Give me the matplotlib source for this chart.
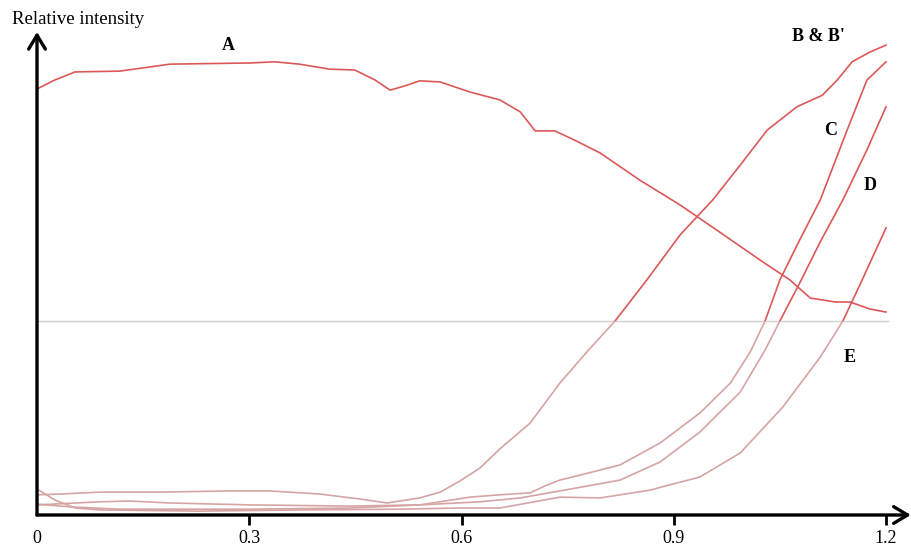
import numpy as np
import matplotlib
matplotlib.use("Agg")
import matplotlib.pyplot as plt
from matplotlib.patches import Rectangle

# curves (x, relative intensity with the grey line at 50)
a_x = [0, 0.025, 0.054, 0.117, 0.188, 0.301, 0.336, 0.371, 0.414, 0.449, 0.478, 0.499,
       0.520, 0.541, 0.570, 0.612, 0.654, 0.683, 0.704, 0.732, 0.760, 0.796, 0.852,
       0.909, 0.965, 1.022, 1.064, 1.093, 1.128, 1.149, 1.177, 1.200]
a_y = [109.8, 112.1, 114.2, 114.4, 116.2, 116.5, 116.8, 116.2, 114.9, 114.7, 112.1, 109.5,
       110.6, 111.9, 111.6, 109.0, 107.0, 103.9, 99.0, 99.0, 96.6, 93.3, 86.3,
       79.9, 72.9, 65.7, 60.6, 55.9, 54.9, 54.9, 53.1, 52.3]

b_x = [0, 0.033, 0.089, 0.174, 0.273, 0.329, 0.400, 0.457, 0.495, 0.541, 0.570, 0.598,
       0.626, 0.654, 0.697, 0.739, 0.777, 0.817, 0.862, 0.909, 0.955, 0.994, 1.032,
       1.074, 1.110, 1.131, 1.152, 1.177, 1.200]
b_y = [5.2, 5.4, 5.9, 5.9, 6.2, 6.2, 5.4, 4.1, 3.1, 4.4, 5.9, 8.8,
       12.1, 17.0, 23.7, 34.0, 42.0, 50.0, 60.6, 72.2, 81.2, 90.2, 99.2,
       105.2, 108.2, 112.1, 116.8, 119.3, 121.1]

c_x = [0, 0.047, 0.117, 0.301, 0.442, 0.541, 0.612, 0.654, 0.697, 0.718, 0.739, 0.768,
       0.824, 0.881, 0.937, 0.980, 1.008, 1.029, 1.050, 1.078, 1.107, 1.145, 1.173, 1.200]
c_y = [2.8, 2.1, 1.5, 1.5, 1.8, 2.6, 4.6, 5.2, 5.7, 7.5, 9.0, 10.3,
       12.9, 18.6, 26.3, 34.0, 42.0, 50.0, 60.6, 70.9, 81.2, 99.2, 112.1, 116.8]

d_x = [0, 0.089, 0.131, 0.188, 0.301, 0.442, 0.541, 0.626, 0.683, 0.739, 0.824, 0.881,
       0.937, 0.994, 1.029, 1.050, 1.078, 1.107, 1.139, 1.173, 1.200]
d_y = [2.6, 3.4, 3.6, 3.1, 2.6, 2.3, 2.6, 3.4, 4.4, 6.2, 9.0, 13.7,
       21.4, 31.7, 42.5, 50.0, 59.8, 70.4, 81.2, 94.1, 105.2]

e_x = [0, 0.025, 0.054, 0.089, 0.230, 0.372, 0.513, 0.598, 0.654, 0.739, 0.796, 0.866,
       0.937, 0.994, 1.054, 1.107, 1.139, 1.163, 1.200]
e_y = [6.7, 3.9, 1.8, 1.3, 1.0, 1.3, 1.5, 1.8, 1.8, 4.6, 4.4, 6.4,
       9.8, 16.0, 27.8, 40.7, 50.0, 59.3, 74.0]

curves = [(a_x, a_y), (b_x, b_y), (c_x, c_y), (d_x, d_y), (e_x, e_y)]

labels = ["A", "B & B'", "C", "D", "E"]
label_x = [0.271, 1.104, 1.121, 1.177, 1.149]
label_y = [121.1, 123.2, 99.2, 85.0, 40.7]

ticks = [0, 0.3, 0.6, 0.9, 1.2]
tick_labels = ["0", "0.3", "0.6", "0.9", "1.2"]
threshold = 50

serif = "Liberation Serif"
fig = plt.figure(figsize=(9.12, 5.58), dpi=100)
ax = fig.add_axes([37/912, 43/558, 873.8/912, 485/558])
ax.set_xlim(0, 1.235)
ax.set_ylim(0, 125)
for s in ax.spines.values():
    s.set_visible(False)

# grey reference line
ax.plot([0, 1.203], [threshold, threshold], color="#d0d0d0", lw=1)

# lines are red above the grey line, faded below it
for xs, ys in curves:
    top = ax.plot(xs, ys, color="#dc5858", lw=1.2)[0]
    top.set_clip_path(Rectangle((-1, threshold), 5, 500, transform=ax.transData))
    bot = ax.plot(xs, ys, color="#d6a4a4", lw=1.2)[0]
    bot.set_clip_path(Rectangle((-1, -50), 5, 50 + threshold, transform=ax.transData))

for lab, lx, ly in zip(labels, label_x, label_y):
    ax.text(lx, ly, lab, fontsize=13, fontweight="bold", family=serif,
            ha="center", va="center")

# axes with arrows
arrow = dict(arrowstyle="->,head_length=1.0,head_width=0.6", lw=2.4, color="black",
             shrinkA=0, shrinkB=0)
ax.annotate("", xy=(1.235, 0), xytext=(0, 0), arrowprops=arrow, annotation_clip=False)
ax.annotate("", xy=(0, 124.5), xytext=(0, 0), arrowprops=arrow, annotation_clip=False)

ax.set_xticks(ticks)
ax.set_xticklabels(tick_labels, family=serif, fontsize=13)
ax.tick_params(axis="x", direction="out", length=7.5, width=2, pad=3)
ax.xaxis.get_major_ticks()[0].tick1line.set_visible(False)
ax.set_yticks([])

fig.text(12/912, 1 - 19/558, "Relative intensity", family=serif, fontsize=13.5,
         ha="left", va="center")

fig.savefig("out.png", dpi=100)
